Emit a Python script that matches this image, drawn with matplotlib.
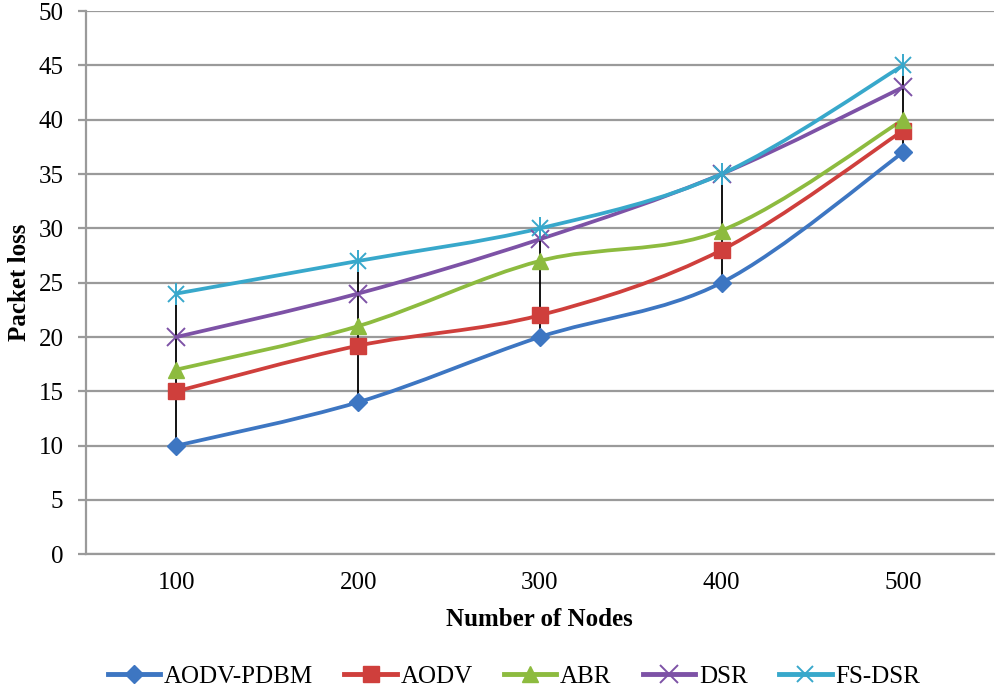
import matplotlib.pyplot as plt
from matplotlib.path import Path
from matplotlib.patches import PathPatch
from matplotlib.lines import Line2D
import numpy as np

nodes = ['100', '200', '300', '400', '500']
aodv_pdbm = [10, 14, 20, 25, 37]
aodv = [15, 19.2, 22, 28, 39]
abr = [17, 21, 27, 29.8, 40]
dsr = [20, 24, 29, 35, 43]
fs_dsr = [24, 27, 30, 35, 45]

series = [
    ('AODV-PDBM', aodv_pdbm, '#3d76c2', 'D'),
    ('AODV', aodv, '#cf3f3c', 's'),
    ('ABR', abr, '#8dbb3f', '^'),
    ('DSR', dsr, '#7d52a6', 'x'),
    ('FS-DSR', fs_dsr, '#38a8cb', '*'),
]

plt.rcParams['font.family'] = ['Liberation Serif', 'DejaVu Serif']


def smooth_path(xs, ys):
    # Excel-like smoothed line: cubic Bezier through every point
    pts = np.column_stack([xs, ys]).astype(float)
    ext = np.vstack([pts[0], pts, pts[-1]])
    verts = [pts[0]]
    codes = [Path.MOVETO]
    for i in range(len(pts) - 1):
        p0, p1, p2, p3 = ext[i], ext[i + 1], ext[i + 2], ext[i + 3]
        verts += [p1 + (p2 - p0) / 6, p2 - (p3 - p1) / 6, p2]
        codes += [Path.CURVE4] * 3
    return Path(verts, codes)


fig = plt.figure(figsize=(9.96, 6.92), dpi=100)
ax = fig.add_axes([0.086, 0.199, 0.912, 0.785])

x = np.arange(1, len(nodes) + 1)
grid_col = '#9a9a9a'

ax.set_xlim(0.5, 5.5)
ax.set_ylim(0, 50)
ax.set_yticks(range(0, 51, 5))
ax.set_xticks(x)
ax.set_xticklabels(nodes)
ax.yaxis.grid(True, color=grid_col, linewidth=1.6)
ax.set_axisbelow(True)
for s in ['top', 'right']:
    ax.spines[s].set_visible(False)
ax.spines['left'].set_color(grid_col)
ax.spines['left'].set_linewidth(1.6)
ax.spines['bottom'].set_color(grid_col)
ax.spines['bottom'].set_linewidth(1.6)
ax.tick_params(axis='y', length=6, width=1.6, color=grid_col, labelsize=18, pad=10)
ax.tick_params(axis='x', length=0, labelsize=18, pad=13)

# high-low lines
lows = np.min([s[1] for s in series], axis=0)
highs = np.max([s[1] for s in series], axis=0)
ax.vlines(x, lows, highs, color='black', linewidth=1.3, zorder=3)

handles = []
for name, vals, col, mk in series:
    ax.add_patch(PathPatch(smooth_path(x, vals), fill=False, edgecolor=col,
                           linewidth=2.7, zorder=2))
    if mk == '*':
        ax.plot(x, vals, linestyle='none', marker='x', markersize=12,
                markeredgecolor=col, markeredgewidth=1.4, zorder=4)
        ax.plot(x, vals, linestyle='none', marker='|', markersize=16,
                markeredgecolor=col, markeredgewidth=1.4, zorder=4)
        h = Line2D([], [], color=col, linewidth=3.5, marker='x', markersize=12,
                   markeredgewidth=1.4)
    elif mk == 'x':
        ax.plot(x, vals, linestyle='none', marker='x', markersize=13,
                markeredgecolor=col, markeredgewidth=1.4, zorder=4)
        h = Line2D([], [], color=col, linewidth=3.5, marker='x', markersize=13,
                   markeredgewidth=1.4)
    else:
        ms = 11 if mk != 'D' else 9
        ax.plot(x, vals, linestyle='none', marker=mk, markersize=ms,
                color=col, markeredgecolor=col, zorder=4)
        h = Line2D([], [], color=col, linewidth=3.5, marker=mk, markersize=ms)
    handles.append((h, name))

ax.set_ylabel('Packet loss', fontsize=18, fontweight='bold', labelpad=5)
ax.set_xlabel('Number of Nodes', fontsize=18, fontweight='bold', labelpad=10)

fig.legend([h for h, _ in handles], [n for _, n in handles], loc='center',
           bbox_to_anchor=(0.516, 0.022), ncol=5, frameon=False, fontsize=18,
           handlelength=2.1, handletextpad=0.15, columnspacing=1.25,
           borderpad=0, borderaxespad=0)

fig.savefig('out.png', dpi=100)
